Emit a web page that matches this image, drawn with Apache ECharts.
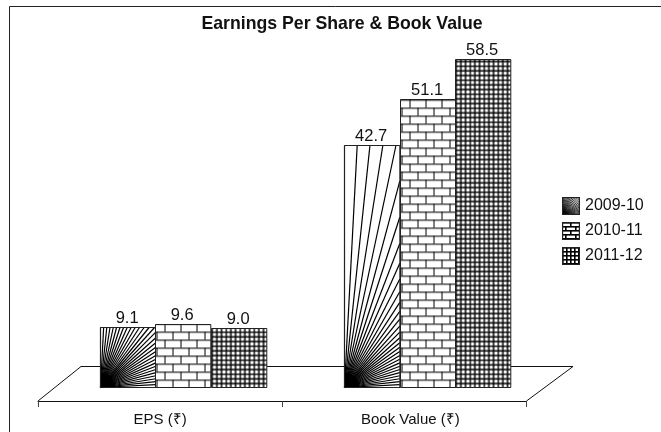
<!DOCTYPE html>
<html>
<head>
<meta charset="utf-8">
<style>html,body{margin:0;padding:0;background:#fff}#chart{width:661px;height:432px}</style>
<script src="https://cdn.jsdelivr.net/npm/echarts@6/dist/echarts.min.js"></script>
</head>
<body>
<div id="chart"></div>
<script>
var categories = ['EPS (₹)', 'Book Value (₹)'];
var years = ['2009-10', '2010-11', '2011-12'];
var fy0910 = [9.1, 42.7];
var fy1011 = [9.6, 51.1];
var fy1112 = [9.0, 58.5];

var FONT = '"Liberation Sans", Arial, sans-serif';
var BAR_W = 55.3;
var FLOOR_VALUE = -1.9; // bars stand on the floor, a little under zero because of the fake 3d
var BAR_SHIFT = 23;

function tile(w, h, draw) {
  var c = document.createElement('canvas');
  c.width = w;
  c.height = h;
  var ctx = c.getContext('2d');
  ctx.fillStyle = '#fff';
  ctx.fillRect(0, 0, w, h);
  ctx.fillStyle = '#000';
  draw(ctx);
  return c;
}

// brick wall, 16px wide and 8px high
var brickTile = tile(16, 16, function (ctx) {
  ctx.fillStyle = '#333';
  ctx.fillRect(0, 0, 16, 1.3);
  ctx.fillRect(0, 8, 16, 1.3);
  ctx.fillStyle = '#000';
  ctx.fillRect(9, 0, 1, 8);
  ctx.fillRect(1, 8, 1, 8);
});
// small grid
var gridTile = tile(14, 14, function (ctx) {
  ctx.fillRect(0, 0, 14, 14);
  ctx.fillStyle = '#fff';
  [1.4, 6.1, 10.8].forEach(function (x) {
    [1.4, 6.1, 10.8].forEach(function (y) {
      ctx.fillRect(x, y, 3.2, 3.2);
    });
  });
});

function rayLines(x, y, w, h) {
  var lines = [{
    type: 'sector',
    shape: { cx: x, cy: y + h, r0: 0, r: 15, startAngle: -Math.PI / 2, endAngle: 0 },
    style: { fill: '#000' },
    silent: true
  }];
  for (var deg = 0; deg <= 90; deg += 3) {
    var a = deg * Math.PI / 180;
    var cos = Math.cos(a), sin = Math.sin(a);
    var r = Math.min(cos > 1e-6 ? w / cos : 1e9, sin > 1e-6 ? h / sin : 1e9);
    lines.push({
      type: 'line',
      shape: { x1: x, y1: y + h, x2: x + r * cos, y2: y + h - r * sin },
      style: { stroke: '#000', lineWidth: 1.2 },
      silent: true
    });
  }
  return lines;
}

function barRenderer(kind, index) {
  return function (params, api) {
    var v = api.value(1);
    var pt = api.coord([api.value(0), v]);
    var x = Math.round(pt[0] + BAR_SHIFT + (index - 1) * BAR_W - BAR_W / 2) + 0.5;
    var top = Math.round(pt[1]) + 0.5;
    var bottom = Math.round(api.coord([api.value(0), FLOOR_VALUE])[1]) + 0.5;
    var h = bottom - top;
    var fill = '#fff';
    if (kind === 'brick') fill = { image: brickTile, repeat: 'repeat', x: x, y: bottom };
    if (kind === 'grid') fill = { image: gridTile, repeat: 'repeat', x: x, y: bottom };
    var children = [{
      type: 'rect',
      shape: { x: x, y: top, width: BAR_W, height: h },
      style: { fill: fill, stroke: 'none' }
    }];
    if (kind === 'rays') children = children.concat(rayLines(x, top, BAR_W, h));
    children.push({
      type: 'rect',
      shape: { x: x, y: top, width: BAR_W, height: h },
      style: { fill: 'none', stroke: '#222', lineWidth: 1 }
    });
    children.push({
      type: 'text',
      x: x + BAR_W / 2 - 1,
      y: top - 1,
      style: {
        text: v.toFixed(1),
        font: '16.5px ' + FONT,
        fill: '#111',
        textAlign: 'center',
        textVerticalAlign: 'bottom'
      }
    });
    return { type: 'group', children: children };
  };
}

function legendIcon(kind) {
  var c = tile(18, 18, function (ctx) {
    if (kind === 'rays') {
      ctx.lineWidth = 0.8;
      for (var deg = 0; deg <= 90; deg += 4) {
        var a = deg * Math.PI / 180;
        ctx.beginPath();
        ctx.moveTo(0, 18);
        ctx.lineTo(30 * Math.cos(a), 18 - 30 * Math.sin(a));
        ctx.stroke();
      }
    } else if (kind === 'brick') {
      for (var y = 0; y < 18; y += 4) ctx.fillRect(0, y, 18, 1.6);
      for (var r = 0; r < 5; r++) {
        for (var x = (r % 2 ? 3 : 8); x < 18; x += 10) ctx.fillRect(x, r * 4, 1.6, 4);
      }
    } else {
      for (var g = 0; g < 18; g += 4) {
        ctx.fillRect(g, 0, 1.6, 18);
        ctx.fillRect(0, g, 18, 1.6);
      }
    }
    ctx.lineWidth = 1.4;
    ctx.strokeStyle = '#222';
    ctx.strokeRect(0.5, 0.5, 17, 17);
  });
  return 'image://' + c.toDataURL();
}

var kinds = ['rays', 'brick', 'grid'];
var values = [fy0910, fy1011, fy1112];

var chart = echarts.init(document.getElementById('chart'));

chart.setOption({
  backgroundColor: '#fff',
  animation: false,
  title: {
    text: 'Earnings Per Share & Book Value',
    left: 337,
    top: 10,
    textAlign: 'center',
    textStyle: { fontFamily: FONT, fontSize: 17.7, fontWeight: 'bold', color: '#111' }
  },
  legend: {
    left: 562,
    top: 197,
    padding: 0,
    orient: 'vertical',
    itemWidth: 18,
    itemHeight: 18,
    itemGap: 7,
    textStyle: { fontFamily: FONT, fontSize: 16, color: '#111' },
    selectedMode: false,
    data: years.map(function (y, i) { return { name: y, icon: legendIcon(kinds[i]) }; })
  },
  grid: { left: 38, right: 134.5, top: 51, bottom: 31 },
  xAxis: {
    type: 'category',
    data: categories,
    axisLine: { onZero: false, lineStyle: { color: '#111', width: 1 } },
    axisTick: { show: true, length: 6, lineStyle: { color: '#444' } },
    axisLabel: {
      fontFamily: FONT,
      fontSize: 15,
      color: '#111',
      margin: 11,
      formatter: function (name, i) { return i === 1 ? '{b|' + name + '}' : name; },
      rich: { b: { fontFamily: FONT, fontSize: 15, color: '#111', padding: [0, 0, 0, 12] } }
    }
  },
  yAxis: { type: 'value', min: -4.5, max: 60, show: false },
  graphic: [
    {
      type: 'polyline', z: 0, silent: true,
      shape: { points: [[9.5, 432], [9.5, 6.5], [661, 6.5]] },
      style: { fill: 'none', stroke: '#222', lineWidth: 1 }
    },
    {
      type: 'polyline', z: 1, silent: true,
      shape: { points: [[38, 401], [81, 366.5], [573, 366.5], [526.5, 401]] },
      style: { fill: 'none', stroke: '#111', lineWidth: 1 }
    }
  ],
  series: years.map(function (y, i) {
    return {
      name: y,
      type: 'custom',
      z: 5,
      silent: true,
      renderItem: barRenderer(kinds[i], i),
      encode: { x: 0, y: 1 },
      data: categories.map(function (c, j) { return [j, values[i][j]]; })
    };
  })
});
</script>
</body>
</html>
